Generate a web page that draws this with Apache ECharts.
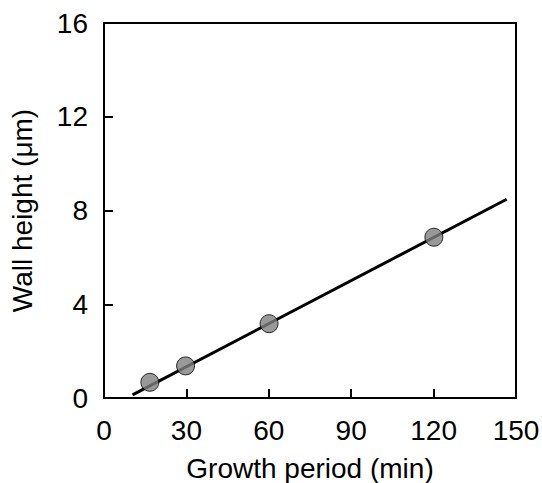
<!DOCTYPE html>
<html>
<head>
<meta charset="utf-8">
<script src="https://cdn.jsdelivr.net/npm/echarts@6/dist/echarts.min.js"></script>
<style>
  html, body { margin: 0; padding: 0; background: #fff; }
  #chart { width: 542px; height: 483px; }
</style>
</head>
<body>
<div id="chart"></div>
<script>
// measured points
var growthMin = [16.7, 29.7, 60.1, 120.1];
var wallHeight = [0.67, 1.37, 3.17, 6.86];
// fitted line end points
var fitX = [10.4, 146.6];
var fitY = [0.13, 8.48];

var chart = echarts.init(document.getElementById('chart'), null, { renderer: 'svg' });
var font = 'Liberation Sans, Arial, sans-serif';

chart.setOption({
  animation: false,
  grid: {
    left: 104, right: 26, top: 23, bottom: 85,
    outerBoundsMode: 'none', containLabel: false,
    show: true, borderColor: '#000', borderWidth: 2
  },
  xAxis: {
    type: 'value', min: 0, max: 150, interval: 30,
    name: 'Growth period (min)', nameLocation: 'middle', nameGap: 56,
    nameTextStyle: { color: '#000', fontSize: 28, fontFamily: font },
    axisLine: { show: true, lineStyle: { color: '#000', width: 2 } },
    axisTick: { show: true, inside: true, length: 9, lineStyle: { color: '#000', width: 2 } },
    axisLabel: { color: '#000', fontSize: 28, fontFamily: font, margin: 18 },
    splitLine: { show: false }
  },
  yAxis: {
    type: 'value', min: 0, max: 16, interval: 4,
    name: 'Wall height (μm)', nameLocation: 'middle', nameGap: 68, nameRotate: 90,
    nameTextStyle: { color: '#000', fontSize: 28, fontFamily: font },
    axisLine: { show: true, lineStyle: { color: '#000', width: 2 } },
    axisTick: { show: true, inside: true, length: 9, lineStyle: { color: '#000', width: 2 } },
    axisLabel: { color: '#000', fontSize: 28, fontFamily: font, margin: 16 },
    splitLine: { show: false }
  },
  series: [{
    type: 'line',
    data: fitX.map(function(x, i) { return [x, fitY[i]]; }),
    showSymbol: false,
    lineStyle: { color: '#000', width: 3 },
    z: 2
  }, {
    type: 'scatter',
    data: growthMin.map(function(x, i) { return [x, wallHeight[i]]; }),
    symbolSize: 18,
    itemStyle: { color: '#808080', borderColor: '#000', borderWidth: 1 },
    z: 3
  }]
});
</script>
</body>
</html>
